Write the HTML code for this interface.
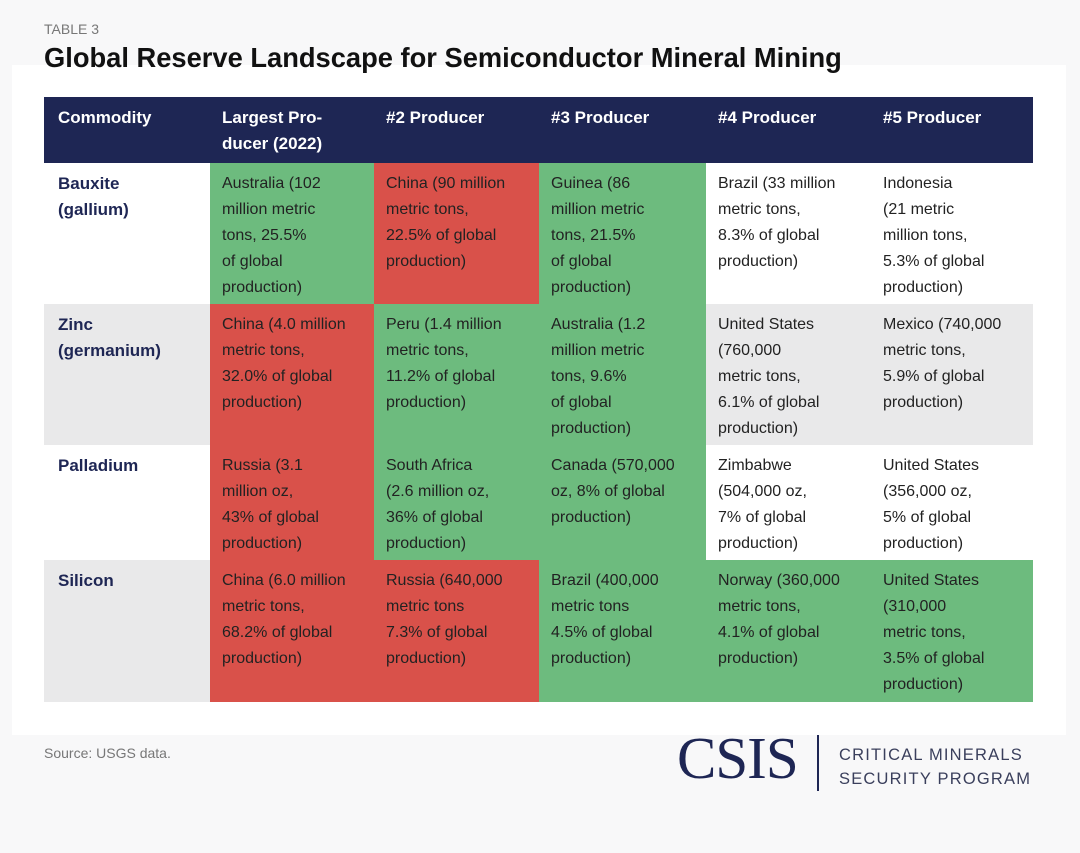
<!DOCTYPE html>
<html><head><meta charset="utf-8"><style>
body{margin:0;width:1080px;height:853px;background:#f8f8f9;font-family:"Liberation Sans",sans-serif;position:relative;overflow:hidden}
.panel{position:absolute;left:12px;top:65px;width:1054px;height:670px;background:#fff}
.c{position:absolute;box-sizing:border-box;padding:8px 10px 0 12px;font-size:16px;line-height:26px;color:#222}
.h{background:#1e2654;color:#fff;font-weight:bold;font-size:17px}
.k{color:#1e2654;font-weight:bold;font-size:17px;padding-left:14px}
.g{background:#6dbb7e}.r{background:#d9514a}.w{background:#fff}.y{background:#e9e9ea}
</style></head><body>
<div class="panel"></div>
<div style="position:absolute;left:44px;top:21px;font-size:14px;color:#777">TABLE 3</div>
<div style="position:absolute;left:44px;top:42px;font-size:27.3px;font-weight:bold;color:#111">Global Reserve Landscape for Semiconductor Mineral Mining</div>
<div id="t"></div>
<div style="position:absolute;left:44px;top:745px;font-size:14px;color:#777">Source: USGS data.</div>
<div style="position:absolute;left:677px;top:724px;font-family:'Liberation Serif',serif;font-size:59px;color:#1e2654;letter-spacing:-1px">CSIS</div>
<div style="position:absolute;left:817px;top:735px;width:2px;height:56px;background:#1e2654"></div>
<div style="position:absolute;left:839px;top:743px;font-size:16.5px;line-height:24px;color:#3a3f5c;letter-spacing:1.2px">CRITICAL MINERALS<br>SECURITY PROGRAM</div>
<script>
const cols=[44,210,374,539,706,871,1033];
const rows=[97,163,304,445,560,702];
const headers=["Commodity","Largest Pro-<br>ducer (2022)","#2 Producer","#3 Producer","#4 Producer","#5 Producer"];
const data=[
["Bauxite<br>(gallium)","w",[["g","Australia (102<br>million metric<br>tons, 25.5%<br>of global<br>production)"],["r","China (90 million<br>metric tons,<br>22.5% of global<br>production)"],["g","Guinea (86<br>million metric<br>tons, 21.5%<br>of global<br>production)"],["w","Brazil (33 million<br>metric tons,<br>8.3% of global<br>production)"],["w","Indonesia<br>(21 metric<br>million tons,<br>5.3% of global<br>production)"]]],
["Zinc<br>(germanium)","y",[["r","China (4.0 million<br>metric tons,<br>32.0% of global<br>production)"],["g","Peru (1.4 million<br>metric tons,<br>11.2% of global<br>production)"],["g","Australia (1.2<br>million metric<br>tons, 9.6%<br>of global<br>production)"],["y","United States<br>(760,000<br>metric tons,<br>6.1% of global<br>production)"],["y","Mexico (740,000<br>metric tons,<br>5.9% of global<br>production)"]]],
["Palladium","w",[["r","Russia (3.1<br>million oz,<br>43% of global<br>production)"],["g","South Africa<br>(2.6 million oz,<br>36% of global<br>production)"],["g","Canada (570,000<br>oz, 8% of global<br>production)"],["w","Zimbabwe<br>(504,000 oz,<br>7% of global<br>production)"],["w","United States<br>(356,000 oz,<br>5% of global<br>production)"]]],
["Silicon","y",[["r","China (6.0 million<br>metric tons,<br>68.2% of global<br>production)"],["r","Russia (640,000<br>metric tons<br>7.3% of global<br>production)"],["g","Brazil (400,000<br>metric tons<br>4.5% of global<br>production)"],["g","Norway (360,000<br>metric tons,<br>4.1% of global<br>production)"],["g","United States<br>(310,000<br>metric tons,<br>3.5% of global<br>production)"]]]
];
const t=document.getElementById('t');
function cell(cls,x0,x1,y0,y1,html){const d=document.createElement('div');d.className='c '+cls;d.style.left=x0+'px';d.style.top=y0+'px';d.style.width=(x1-x0)+'px';d.style.height=(y1-y0)+'px';d.innerHTML=html;t.appendChild(d);return d;}
headers.forEach((h,i)=>{const d=cell('h',cols[i],cols[i+1],rows[0],rows[1],h);d.style.paddingLeft=(i==0?14:12)+'px';

});
data.forEach((r,ri)=>{const k=cell('k '+r[1],cols[0],cols[1],rows[ri+1],rows[ri+2],r[0]);


r[2].forEach((c,ci)=>{const d=cell(c[0],cols[ci+1],cols[ci+2],rows[ri+1],rows[ri+2],c[1]);

});});
</script>
</body></html>
